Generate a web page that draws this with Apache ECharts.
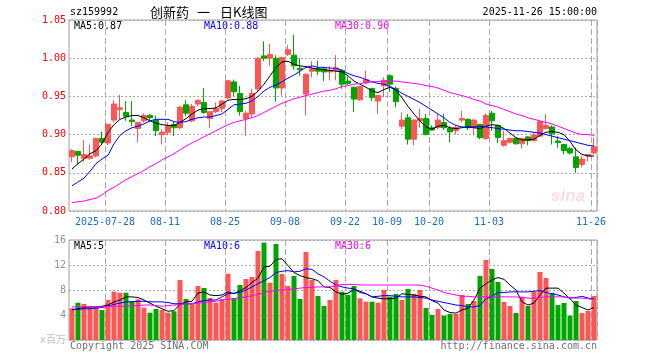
<!DOCTYPE html>
<html><head><meta charset="utf-8">
<script src="https://cdn.jsdelivr.net/npm/echarts@6/dist/echarts.min.js"></script>
<style>html,body{margin:0;padding:0;background:#fff}#c{width:660px;height:360px}</style>
</head><body><div id="c"></div>
<script>
const categories = ['07-18','07-21','07-22','07-23','07-24','07-25','07-28','07-29','07-30','07-31',
'08-01','08-04','08-05','08-06','08-07','08-08','08-11','08-12','08-13','08-14',
'08-15','08-18','08-19','08-20','08-21','08-22','08-25','08-26','08-27','08-28',
'08-29','09-01','09-02','09-03','09-04','09-05','09-08','09-09','09-10','09-11',
'09-12','09-15','09-16','09-17','09-18','09-19','09-22','09-23','09-24','09-25',
'09-26','09-29','09-30','10-09','10-10','10-13','10-14','10-15','10-16','10-17',
'10-20','10-21','10-22','10-23','10-24','10-27','10-28','10-29','10-30','10-31',
'11-03','11-04','11-05','11-06','11-07','11-10','11-11','11-12','11-13','11-14',
'11-17','11-18','11-19','11-20','11-21','11-24','11-25','11-26'];
const tickDates = ['07-28','08-11','08-25','09-08','09-22','10-09','10-20','11-03','11-26'];
const tickLabels = ['2025-07-28','08-11','08-25','09-08','09-22','10-09','10-20','11-03','11-26'];

const open = [0.871,0.878,0.869,0.869,0.872,0.895,0.889,0.919,0.933,0.929,
0.919,0.908,0.918,0.925,0.919,0.900,0.903,0.913,0.909,0.939,
0.918,0.940,0.942,0.921,0.930,0.934,0.948,0.969,0.954,0.921,
0.927,0.960,1.003,1.000,1.000,0.961,1.005,1.004,0.987,0.953,
0.983,0.986,0.986,0.982,0.984,0.984,0.970,0.962,0.9455,0.9675,
0.9605,0.944,0.964,0.977,0.9605,0.911,0.922,0.894,0.918,0.921,
0.909,0.909,0.916,0.908,0.905,0.919,0.920,0.909,0.9135,0.895,
0.928,0.912,0.886,0.890,0.895,0.888,0.897,0.892,0.898,0.908,
0.910,0.8916,0.887,0.8816,0.871,0.861,0.872,0.876];
const close = [0.879,0.873,0.874,0.872,0.895,0.890,0.9135,0.940,0.935,0.924,
0.917,0.916,0.925,0.922,0.905,0.903,0.912,0.909,0.936,0.928,
0.937,0.945,0.929,0.930,0.934,0.944,0.9705,0.956,0.930,0.928,
0.954,1.000,1.000,1.005,0.961,1.001,1.011,0.990,0.985,0.979,
0.986,0.983,0.982,0.984,0.987,0.966,0.967,0.9465,0.963,0.972,
0.9487,0.951,0.971,0.966,0.943,0.919,0.894,0.919,0.921,0.900,
0.906,0.919,0.909,0.9035,0.909,0.921,0.909,0.919,0.896,0.925,
0.918,0.896,0.892,0.895,0.888,0.895,0.892,0.8995,0.917,0.912,
0.901,0.8895,0.879,0.876,0.857,0.868,0.874,0.884];
const high = [0.881,0.879,0.893,0.887,0.896,0.904,0.914,0.945,0.952,0.944,
0.944,0.916,0.928,0.927,0.925,0.907,0.916,0.917,0.937,0.945,
0.940,0.946,0.961,0.931,0.942,0.945,0.971,0.972,0.964,0.931,
0.960,1.001,1.022,1.019,1.004,1.002,1.0175,1.031,1.000,0.980,
0.996,0.997,0.988,0.990,1.004,0.986,0.976,0.963,0.964,0.984,
0.961,0.952,0.975,0.979,0.963,0.929,0.927,0.920,0.934,0.927,
0.912,0.927,0.927,0.911,0.912,0.931,0.921,0.920,0.914,0.928,
0.931,0.913,0.905,0.896,0.896,0.896,0.898,0.9035,0.918,0.927,
0.912,0.898,0.888,0.884,0.883,0.872,0.875,0.896];
const low = [0.864,0.861,0.864,0.867,0.870,0.886,0.886,0.916,0.920,0.918,
0.911,0.890,0.916,0.917,0.898,0.887,0.899,0.898,0.907,0.924,
0.916,0.937,0.927,0.909,0.928,0.929,0.946,0.950,0.925,0.898,
0.922,0.956,0.996,0.990,0.943,0.951,1.003,0.985,0.977,0.925,
0.975,0.978,0.970,0.971,0.971,0.960,0.965,0.930,0.944,0.966,
0.944,0.927,0.949,0.956,0.9355,0.907,0.887,0.886,0.909,0.899,
0.905,0.907,0.906,0.890,0.900,0.916,0.906,0.899,0.894,0.893,
0.905,0.889,0.884,0.888,0.887,0.882,0.886,0.891,0.897,0.907,
0.887,0.883,0.874,0.874,0.850,0.857,0.865,0.874];

const ma5 = [0.855,0.862,0.868,0.875,0.879,0.888,0.903,0.913,0.920,0.923,
0.925,0.925,0.922,0.918,0.915,0.913,0.912,0.912,0.916,0.921,
0.927,0.932,0.934,0.934,0.935,0.940,0.945,0.946,0.946,0.947,
0.950,0.957,0.966,0.977,0.988,0.995,0.996,0.992,0.990,0.989,
0.987,0.986,0.985,0.984,0.983,0.982,0.977,0.970,0.966,0.962,
0.957,0.955,0.959,0.962,0.958,0.948,0.937,0.927,0.918,0.910,
0.907,0.911,0.912,0.909,0.908,0.909,0.910,0.909,0.908,0.911,
0.913,0.912,0.908,0.902,0.896,0.893,0.893,0.894,0.899,0.903,
0.904,0.903,0.900,0.891,0.880,0.874,0.872,0.872];
const ma10 = [0.833,0.838,0.843,0.852,0.862,0.868,0.873,0.888,0.899,0.905,
0.909,0.911,0.914,0.918,0.920,0.920,0.920,0.917,0.916,0.917,
0.920,0.922,0.923,0.923,0.925,0.927,0.933,0.939,0.940,0.941,
0.944,0.950,0.957,0.962,0.965,0.969,0.974,0.978,0.983,0.988,
0.990,0.988,0.988,0.987,0.987,0.984,0.980,0.977,0.975,0.972,
0.969,0.967,0.966,0.963,0.959,0.954,0.950,0.946,0.942,0.937,
0.932,0.927,0.922,0.916,0.912,0.910,0.910,0.910,0.911,0.910,
0.909,0.908,0.907,0.906,0.905,0.905,0.904,0.903,0.902,0.900,
0.898,0.896,0.894,0.892,0.890,0.888,0.886,0.885];
const ma30 = [0.811,0.812,0.813,0.815,0.817,0.821,0.827,0.831,0.836,0.841,
0.845,0.849,0.853,0.858,0.862,0.867,0.871,0.875,0.880,0.885,
0.889,0.893,0.897,0.901,0.905,0.909,0.913,0.916,0.918,0.920,
0.922,0.925,0.929,0.933,0.937,0.941,0.944,0.947,0.949,0.951,
0.953,0.955,0.957,0.958,0.960,0.963,0.964,0.966,0.967,0.968,
0.969,0.9695,0.970,0.970,0.970,0.969,0.968,0.967,0.966,0.964,
0.963,0.961,0.958,0.955,0.953,0.951,0.949,0.946,0.944,0.940,
0.938,0.936,0.933,0.930,0.927,0.925,0.922,0.920,0.918,0.916,
0.914,0.911,0.908,0.905,0.902,0.900,0.900,0.899];

const volume = [5.07,5.97,5.76,5.33,5.25,4.8,6.4,7.73,7.57,7.57,
6.24,6.51,5.17,4.37,4.96,4.8,4.37,4.6,9.6,6.56,
5.76,8.64,8.32,6.72,5.97,6.56,10.6,6.72,8.8,9.76,
10.08,14.24,15.57,9.17,15.36,10.56,8.64,10.24,6.56,14.08,
9.6,7.04,5.44,6.4,9.6,7.73,7.2,8.64,6.67,6.13,
6.13,5.97,8.0,6.93,7.36,6.4,8.16,7.36,8.0,5.12,
4.0,4.96,3.89,4.16,4.16,7.2,5.76,6.24,10.24,12.8,
11.36,9.28,6.08,5.44,4.32,6.93,5.44,7.68,10.88,9.92,
7.52,5.6,5.92,3.89,6.24,4.32,4.64,7.04];
const volMa5 = [4.8,5.0,5.2,5.3,5.3,5.4,5.6,6.1,6.4,6.9,
6.9,6.8,6.4,5.9,5.4,5.0,4.6,4.7,5.7,6.1,
6.2,7.5,7.7,7.2,7.1,7.2,7.7,7.4,7.9,8.4,
9.2,9.9,11.7,11.8,12.9,13.0,11.9,10.8,10.3,10.0,
9.8,9.5,8.5,8.4,7.7,7.3,7.5,8.1,7.8,7.4,
6.9,6.7,6.6,6.6,6.7,7.4,7.3,7.2,7.0,6.9,
6.3,5.9,4.8,4.4,4.3,4.8,5.1,6.4,8.3,9.0,
9.6,10.0,9.7,8.8,8.0,6.1,5.6,5.9,7.2,8.3,
8.3,8.3,7.5,6.6,5.6,5.2,4.8,5.2];
const volMa10 = [4.9,4.9,5.0,5.0,5.1,5.2,5.4,5.7,5.9,6.1,
6.1,6.2,6.2,6.1,6.1,6.1,6.0,5.8,5.8,5.8,
5.8,6.1,6.3,6.4,6.4,6.9,7.4,7.5,7.6,8.0,
8.5,9.0,9.5,10.0,10.8,11.0,11.1,10.9,11.0,11.4,
11.3,10.6,10.1,9.4,8.8,8.5,8.3,8.2,7.6,7.4,
6.9,7.0,7.1,7.1,7.0,6.9,6.9,6.9,6.8,6.7,
6.4,6.2,6.0,5.8,5.6,5.5,5.3,5.3,5.5,6.6,
7.0,7.6,7.6,7.7,7.7,7.7,7.7,7.8,7.9,7.6,
7.4,7.2,6.9,6.7,6.8,7.0,6.7,6.6];
const volMa30 = [5.3,5.3,5.3,5.3,5.3,5.3,5.4,5.4,5.4,5.4,
5.5,5.5,5.6,5.6,5.5,5.4,5.5,5.6,5.7,5.8,
5.8,5.9,6.0,6.1,6.2,6.4,6.5,6.6,6.8,6.9,
7.1,7.3,7.6,7.8,7.9,8.0,8.1,8.2,8.3,8.4,
8.4,8.5,8.5,8.5,8.7,8.9,8.9,8.9,8.8,8.8,
8.8,8.8,8.8,8.8,8.8,8.8,8.8,8.8,8.8,8.6,
8.3,8.0,7.6,7.4,7.2,7.0,7.0,6.9,6.9,6.9,
6.9,6.9,6.9,6.9,6.9,6.8,6.7,6.7,6.8,6.9,
6.9,6.9,6.9,6.8,6.7,6.7,6.6,6.5];

const priceMaText = ['MA5:0.87','MA10:0.88','MA30:0.90'];
const volMaText = ['MA5:5','MA10:6','MA30:6'];

const RED = '#ff5555', GREEN = '#00a600';
const MONO = 'DejaVu Sans Mono, Liberation Mono, monospace';
const CJK = 'Noto Sans CJK SC, sans-serif';

const kData = categories.map((c, i) => [open[i], close[i], low[i], high[i]]);
const volData = volume.map((v, i) => ({ value: v, itemStyle: { color: close[i] >= open[i] ? RED : GREEN } }));
const tickIdx = tickDates.map(d => categories.indexOf(d));

const chart = echarts.init(document.getElementById('c'), null, { renderer: 'canvas' });
const vSplit = { show: true, interval: (i) => tickIdx.indexOf(i) >= 0, lineStyle: { color: '#aaaaaa', type: [6, 3], width: 1 } };
const hSplit = { show: true, lineStyle: { color: '#aaaaaa', type: [2, 2], width: 1 } };
const lineS = (name, data, color, xi, yi) => ({ name, type: 'line', data, xAxisIndex: xi, yAxisIndex: yi, showSymbol: false, symbol: 'none', smooth: false, lineStyle: { color, width: 1 }, silent: true, z: 5 });

const txt = (text, x, y, fill, opts) => Object.assign({ type: 'text', x, y, style: Object.assign({ text, fill, font: '10px ' + MONO, verticalAlign: 'middle', align: 'left' }, opts || {}) });

chart.setOption({
  animation: false,
  backgroundColor: '#ffffff',
  grid: [
    { left: 69, top: 20, width: 528, height: 191, show: true, borderColor: '#a0a0a0', borderWidth: 1, backgroundColor: 'transparent' },
    { left: 69, top: 240, width: 528, height: 100, show: true, borderColor: '#a0a0a0', borderWidth: 1, backgroundColor: 'transparent' }
  ],
  xAxis: [
    { type: 'category', gridIndex: 0, data: categories, boundaryGap: true,
      axisLine: { show: false }, axisTick: { show: false }, splitLine: vSplit,
      axisLabel: { interval: (i) => tickIdx.indexOf(i) >= 0, formatter: (v) => tickLabels[tickDates.indexOf(v)] || '',
        color: '#1a6ccc', fontFamily: MONO, fontSize: 10, margin: 6, padding: [0, 6, 0, 0] } },
    { type: 'category', gridIndex: 1, data: categories, boundaryGap: true,
      axisLine: { show: false }, axisTick: { show: false }, splitLine: vSplit, axisLabel: { show: false } }
  ],
  yAxis: [
    { type: 'value', gridIndex: 0, min: 0.80, max: 1.05, interval: 0.05, position: 'left',
      axisLine: { show: false }, axisTick: { show: false }, splitLine: hSplit,
      axisLabel: { formatter: (v) => v.toFixed(2), color: '#ff0000', fontFamily: MONO, fontSize: 10, margin: 3 } },
    { type: 'value', gridIndex: 1, min: 0, max: 16, interval: 4, position: 'left',
      axisLine: { show: false }, axisTick: { show: false }, splitLine: hSplit,
      axisLabel: { formatter: (v) => v === 0 ? 'x百万' : String(v), color: (v) => (Number(v) === 0 ? '#c0c0c0' : '#909090'),
        fontFamily: MONO + ', ' + CJK, fontSize: 10, margin: 3 } }
  ],
  series: [
    { name: 'K', type: 'candlestick', xAxisIndex: 0, yAxisIndex: 0, data: kData, barWidth: 5,
      itemStyle: { color: RED, color0: GREEN, borderColor: RED, borderColor0: GREEN, borderWidth: 1 }, silent: true },
    lineS('MA5', ma5, '#000000', 0, 0),
    lineS('MA10', ma10, '#0000ff', 0, 0),
    lineS('MA30', ma30, '#ff00ff', 0, 0),
    { name: 'VOL', type: 'bar', xAxisIndex: 1, yAxisIndex: 1, data: volData, barWidth: 5, silent: true },
    lineS('VMA5', volMa5, '#000000', 1, 1),
    lineS('VMA10', volMa10, '#0000ff', 1, 1),
    lineS('VMA30', volMa30, '#ff00ff', 1, 1)
  ],
  graphic: [
    txt('sz159992', 70, 12.5, '#000'),
    { type: 'text', x: 150, y: 12.5, style: { text: '创新药', fill: '#000', font: '13px ' + CJK, verticalAlign: 'middle' } },
    { type: 'text', x: 197, y: 12.5, style: { text: '一', fill: '#000', font: '13px ' + CJK, verticalAlign: 'middle' } },
    { type: 'text', x: 220, y: 12.5, style: { text: '日K线图', fill: '#000', font: '13px ' + CJK, verticalAlign: 'middle' } },
    txt('2025-11-26 15:00:00', 597, 12.5, '#000', { align: 'right' }),
    txt(priceMaText[0], 74, 26.5, '#000'),
    txt(priceMaText[1], 204, 26.5, '#0000ff'),
    txt(priceMaText[2], 335, 26.5, '#ff00ff'),
    txt(volMaText[0], 74, 246.5, '#000'),
    txt(volMaText[1], 204, 246.5, '#0000ff'),
    txt(volMaText[2], 335, 246.5, '#ff00ff'),
    txt('Copyright 2025 SINA.COM', 70, 346, '#707070'),
    txt('http://finance.sina.com.cn', 597, 346, '#707070', { align: 'right' }),
    { type: 'text', x: 568, y: 196, z: 0, style: { text: 'sina', fill: 'rgba(230,60,60,0.18)', font: 'italic bold 17px Liberation Sans, sans-serif', align: 'center', verticalAlign: 'middle' } }
  ]
});
</script></body></html>
